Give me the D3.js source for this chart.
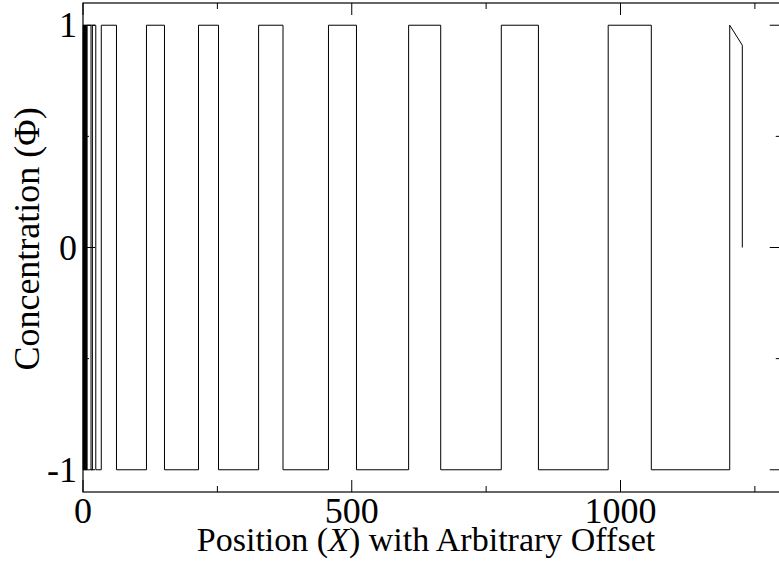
<!DOCTYPE html>
<html>
<head>
<meta charset="utf-8">
<script src="https://cdn.jsdelivr.net/npm/d3@7"></script>
<style>
  html, body { margin: 0; padding: 0; background: #fff; }
  svg { display: block; }
  text { font-family: "Liberation Serif", "DejaVu Serif", serif; fill: #000; }
</style>
</head>
<body>
<svg id="chart" width="779" height="564"></svg>
<script>
// ---- data ----
const startPhi = -1;
// positions X where the profile switches between -1 and +1
const switchX = [0.4, 0.9, 1.5, 2.1, 2.8, 3.5, 4.2, 5.0, 5.8, 6.7, 7.6,
  14.9, 17.5, 23.8, 34.0, 62.3, 118.1, 151.6, 214.9, 252.1, 326.7, 372.1,
  456.7, 508.8, 605.8, 665.5, 778.2, 847.3, 977.1, 1057.3, 1203.2];
// front region after the last switch
const tailX = [1226.6, 1226.6];
const tailPhi = [0.91, 0];

const xMajorTicks = [0, 500, 1000];
const xMinorTicks = [250, 750, 1250];
const yMajorTicks = [-1, 0, 1];
const yMinorTicks = [-0.5, 0.5];
const xTickLabels = ["0", "500", "1000"];
const yTickLabels = ["-1", "0", "1"];

// ---- layout ----
const svg = d3.select("#chart");
const mL = 83, mR = 781.75, mT = 3, mB = 492;
const x = d3.scaleLinear().domain([0, 1300]).range([mL, mR]);
const y = d3.scaleLinear().domain([-1.1, 1.1]).range([mB, mT]);

// build step profile
const pts = [[0, startPhi]];
let cur = startPhi;
switchX.forEach(t => { pts.push([t, cur]); cur = -cur; pts.push([t, cur]); });
tailX.forEach((t, i) => pts.push([t, tailPhi[i]]));

const line = d3.line().x(d => x(d[0])).y(d => y(d[1]));
svg.append("path")
  .attr("d", line(pts))
  .attr("fill", "none")
  .attr("stroke", "#000")
  .attr("stroke-width", 1);

// frame
svg.append("rect")
  .attr("x", mL).attr("y", mT)
  .attr("width", mR - mL).attr("height", mB - mT)
  .attr("fill", "none").attr("stroke", "#000").attr("stroke-width", 1.2);

const g = svg.append("g").attr("stroke", "#000").attr("stroke-width", 1);
const MAJ = 12, MIN = 6;
// x ticks bottom & top
xMajorTicks.forEach(v => {
  g.append("line").attr("x1", x(v)).attr("x2", x(v)).attr("y1", mB).attr("y2", mB - MAJ);
  g.append("line").attr("x1", x(v)).attr("x2", x(v)).attr("y1", mT).attr("y2", mT + MAJ);
});
xMinorTicks.forEach(v => {
  g.append("line").attr("x1", x(v)).attr("x2", x(v)).attr("y1", mB).attr("y2", mB - MIN);
  g.append("line").attr("x1", x(v)).attr("x2", x(v)).attr("y1", mT).attr("y2", mT + MIN);
});
// y ticks left & right
yMajorTicks.forEach(v => {
  g.append("line").attr("x1", mL).attr("x2", mL + MAJ).attr("y1", y(v)).attr("y2", y(v));
  g.append("line").attr("x1", mR).attr("x2", mR - MAJ).attr("y1", y(v)).attr("y2", y(v));
});
yMinorTicks.forEach(v => {
  g.append("line").attr("x1", mL).attr("x2", mL + MIN).attr("y1", y(v)).attr("y2", y(v));
  g.append("line").attr("x1", mR).attr("x2", mR - MIN).attr("y1", y(v)).attr("y2", y(v));
});

// tick labels
const FS = 36;
xMajorTicks.forEach((v, i) => {
  svg.append("text").attr("x", x(v)).attr("y", 523)
    .attr("text-anchor", "middle").attr("font-size", FS).text(xTickLabels[i]);
});
yMajorTicks.forEach((v, i) => {
  svg.append("text").attr("x", 77).attr("y", y(v) + 12)
    .attr("text-anchor", "end").attr("font-size", FS).text(yTickLabels[i]);
});

// axis titles
const xt = svg.append("text").attr("x", 426).attr("y", 551)
  .attr("text-anchor", "middle").attr("font-size", 34);
xt.append("tspan").text("Position (");
xt.append("tspan").attr("font-style", "italic").text("X");
xt.append("tspan").text(") with Arbitrary Offset");

svg.append("text")
  .attr("transform", "translate(39,239) rotate(-90)")
  .attr("text-anchor", "middle").attr("font-size", 36)
  .text("Concentration (\u03A6)");
</script>
</body>
</html>
